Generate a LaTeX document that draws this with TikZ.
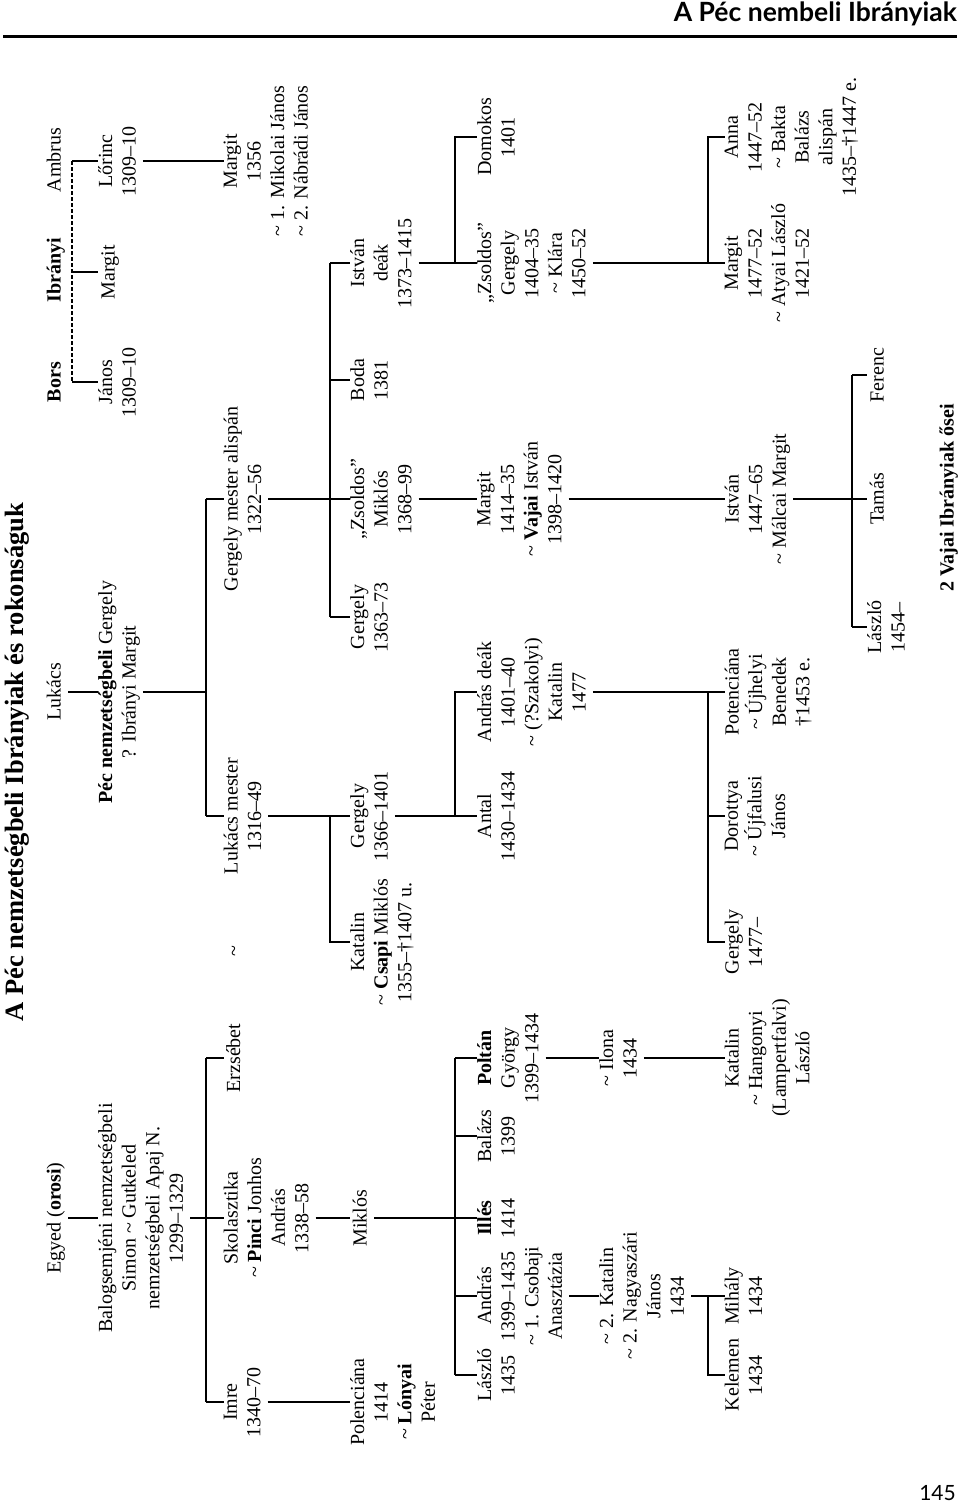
\documentclass[tikz,border=0pt]{standalone}
\usepackage{fontspec}
\setmainfont{Liberation Serif}
\newfontfamily\hdrfont{Lato}
\begin{document}
\begin{tikzpicture}[x=1pt,y=-1pt]
\tikzset{
  pn/.style={rotate=90, anchor=north, inner sep=0pt, align=center,
    font=\fontsize{20}{23.6}\selectfont,
    execute at begin node=\strut, execute at end node=\strut},
  pnb/.style={pn, font=\fontsize{20}{23.6}\selectfont\bfseries},
  ln/.style={line width=1.3pt},
  dl/.style={line width=1.3pt, dash pattern=on 3.5pt off 2.5pt},
}
\fill[white] (0,0) rectangle (960,1504);
\useasboundingbox (0,0) rectangle (960,1504);

% header
\node[anchor=base east, inner sep=0pt, font=\hdrfont\fontsize{26.5}{30}\selectfont\bfseries] (hdr) at (957,22) {A Péc nembeli Ibrányiak};
\draw[line width=3pt] (3,37) -- (957,37);
\node[anchor=base east, inner sep=0pt, font=\hdrfont\fontsize{21}{25}\selectfont] (pg) at (956,1500) {145};

% title
\node[rotate=90, anchor=north, inner sep=0pt, font=\fontsize{26.5}{30}\selectfont\bfseries,
  execute at begin node=\strut] (title) at (2,762) {A Péc nemzetségbeli Ibrányiak és rokonságuk};

% generation 0
\node[pn] (egyed) at (44,1218) {Egyed (\textbf{orosi})};
\node[pn] (lukacs) at (44,692) {Lukács};
\node[pnb] (bors) at (44,382) {Bors};
\node[pnb] (ibranyi) at (44,270) {Ibrányi};
\node[pn] (ambrus) at (44,160) {Ambrus};

% generation 1
\node[pn] (balog) at (98,1218) {Balogsemjéni nemzetségbeli\\Simon \textasciitilde{} Gutkeled\\nemzetségbeli Apaj N.\\1299–1329};
\node[pn] (pec) at (98,692) {\textbf{Péc nemzetségbeli} Gergely\\? Ibrányi Margit};
\node[pn] (janos) at (98,382) {János\\1309–10};
\node[pn] (margit1) at (98,272) {Margit};
\node[pn] (lorinc) at (98,161) {Lőrinc\\1309–10};

% generation 2
\node[pn] (imre) at (223.5,1402) {Imre\\1340–70};
\node[pn] (skol) at (223.5,1218) {Skolasztika\\\textasciitilde{} \textbf{Pinci} Jonhos\\András\\1338–58};
\node[pn] (erzs) at (223.5,1058) {Erzsébet};
\node[pn] (tilde) at (223.5,951) {\textasciitilde};
\node[pn] (lukm) at (223.5,816) {Lukács mester\\1316–49};
\node[pn] (gmest) at (223.5,499) {Gergely mester alispán\\1322–56};
\node[pn] (margit2) at (223.5,161) {Margit\\1356\\\textasciitilde{} 1. Mikolai János\\\textasciitilde{} 2. Nábrádi János};

% generation 3
\node[pn] (polenc) at (350,1402) {Polenciána\\1414\\\textasciitilde{} \textbf{Lónyai}\\Péter};
\node[pn] (miklos) at (350,1218) {Miklós};
\node[pn] (katalin1) at (350,942) {Katalin\\\textasciitilde{} \textbf{Csapi} Miklós\\1355–†1407 u.};
\node[pn] (gergely1) at (350,816) {Gergely\\1366–1401};
\node[pn] (gergely2) at (350,617) {Gergely\\1363–73};
\node[pn] (zsmik) at (350,499) {„Zsoldos”\\Miklós\\1368–99};
\node[pn] (boda) at (350,380) {Boda\\1381};
\node[pn] (istvan1) at (350,263) {István\\deák\\1373–1415};

% generation 4
\node[pn] (laszlo1) at (477,1375) {László\\1435};
\node[pn] (andras1) at (477,1296) {András\\1399–1435\\\textasciitilde{} 1. Csobaji\\Anasztázia};
\node[pn] (illes) at (477,1218) {\textbf{Illés}\\1414};
\node[pn] (balazs) at (477,1136) {Balázs\\1399};
\node[pn] (poltan) at (477,1058) {\textbf{Poltán}\\György\\1399–1434};
\node[pn] (antal) at (477,816) {Antal\\1430–1434};
\node[pn] (andrasd) at (477,692) {András deák\\1401–40\\\textasciitilde{} (?Szakolyi)\\Katalin\\1477};
\node[pn] (margit3) at (477,499) {Margit\\1414–35\\\textasciitilde{} \textbf{Vajai} István\\1398–1420};
\node[pn] (zsgerg) at (477,263) {„Zsoldos”\\Gergely\\1404–35\\\textasciitilde{} Klára\\1450–52};
\node[pn] (domokos) at (477,137) {Domokos\\1401};

% generation 4b
\node[pn] (katalin2) at (599,1296) {\textasciitilde{} 2. Katalin\\\textasciitilde{} 2. Nagyaszári\\János\\1434};
\node[pn] (ilona) at (599,1058) {\textasciitilde{} Ilona\\1434};

% generation 5
\node[pn] (kelemen) at (724.5,1375) {Kelemen\\1434};
\node[pn] (mihaly) at (724.5,1296) {Mihály\\1434};
\node[pn] (katalin3) at (724.5,1058) {Katalin\\\textasciitilde{} Hangonyi\\(Lampertfalvi)\\László};
\node[pn] (gergely3) at (724.5,942) {Gergely\\1477–};
\node[pn] (dorottya) at (724.5,816) {Dorottya\\\textasciitilde{} Újfalusi\\János};
\node[pn] (potenc) at (724.5,692) {Potenciána\\\textasciitilde{} Újhelyi\\Benedek\\†1453 e.};
\node[pn] (istvan2) at (724.5,499) {István\\1447–65\\\textasciitilde{} Málcai Margit};
\node[pn] (margit4) at (724.5,263) {Margit\\1477–52\\\textasciitilde{} Atyai László\\1421–52};
\node[pn] (anna) at (724.5,137) {Anna\\1447–52\\\textasciitilde{} Bakta\\Balázs\\alispán\\1435–†1447 e.};

% generation 6
\node[pn] (laszlo2) at (867,627) {László\\1454–};
\node[pn] (tamas) at (867,499) {Tamás};
\node[pn] (ferenc) at (867,375) {Ferenc};

% caption
\node[pnb] (caption) at (937,498) {2 Vajai Ibrányiak ősei};

% bar coordinates
\coordinate (d0) at (72,272);
\coordinate (b1) at (206,1218);
\coordinate (b2) at (206,692);
\coordinate (b3) at (330,816);
\coordinate (b4) at (330,499);
\coordinate (b5) at (455,1218);
\coordinate (b6) at (455,816);
\coordinate (b7) at (455,263);
\coordinate (b8) at (708,1296);
\coordinate (b9) at (708,692);
\coordinate (b10) at (708,263);
\coordinate (b11) at (852,499);

% connectors
\draw[ln] (egyed.south) -- (balog.north);
\draw[ln] (lukacs.south) -- (pec.north);
\draw[dl] (d0 |- lorinc.north) -- (d0 |- janos.north);
\draw[ln] (d0 |- lorinc.north) -- (lorinc.north);
\draw[ln] (d0 |- margit1.north) -- (margit1.north);
\draw[ln] (d0 |- janos.north) -- (janos.north);
\draw[ln] (lorinc.south) -- (margit2.north);

\draw[ln] (balog.south) -- (skol.north);
\draw[ln] (b1 |- erzs.north) -- (b1 |- imre.north);
\draw[ln] (b1 |- erzs.north) -- (erzs.north);
\draw[ln] (b1 |- imre.north) -- (imre.north);

\draw[ln] (pec.south) -- (b2);
\draw[ln] (b2 |- gmest.north) -- (b2 |- lukm.north);
\draw[ln] (b2 |- gmest.north) -- (gmest.north);
\draw[ln] (b2 |- lukm.north) -- (lukm.north);

\draw[ln] (imre.south) -- (polenc.north);
\draw[ln] (skol.south) -- (miklos.north);

\draw[ln] (lukm.south) -- (gergely1.north);
\draw[ln] (b3) -- (b3 |- katalin1.north) -- (katalin1.north);

\draw[ln] (gmest.south) -- (zsmik.north);
\draw[ln] (b4 |- istvan1.north) -- (b4 |- gergely2.north);
\draw[ln] (b4 |- istvan1.north) -- (istvan1.north);
\draw[ln] (b4 |- boda.north) -- (boda.north);
\draw[ln] (b4 |- gergely2.north) -- (gergely2.north);

\draw[ln] (miklos.south) -- (illes.north);
\draw[ln] (b5 |- poltan.north) -- (b5 |- laszlo1.north);
\draw[ln] (b5 |- poltan.north) -- (poltan.north);
\draw[ln] (b5 |- balazs.north) -- (balazs.north);
\draw[ln] (b5 |- andras1.north) -- (andras1.north);
\draw[ln] (b5 |- laszlo1.north) -- (laszlo1.north);

\draw[ln] (gergely1.south) -- (antal.north);
\draw[ln] (b6) -- (b6 |- andrasd.north) -- (andrasd.north);

\draw[ln] (zsmik.south) -- (margit3.north);
\draw[ln] (istvan1.south) -- (zsgerg.north);
\draw[ln] (b7) -- (b7 |- domokos.north) -- (domokos.north);

\draw[ln] (andras1.south) -- (katalin2.north);
\draw[ln] (poltan.south) -- (ilona.north);

\draw[ln] (katalin2.south) -- (mihaly.north);
\draw[ln] (b8) -- (b8 |- kelemen.north) -- (kelemen.north);

\draw[ln] (ilona.south) -- (katalin3.north);

\draw[ln] (andrasd.south) -- (potenc.north);
\draw[ln] (b9) -- (b9 |- gergely3.north) -- (gergely3.north);
\draw[ln] (b9 |- dorottya.north) -- (dorottya.north);

\draw[ln] (margit3.south) -- (istvan2.north);
\draw[ln] (zsgerg.south) -- (margit4.north);
\draw[ln] (b10) -- (b10 |- anna.north) -- (anna.north);

\draw[ln] (istvan2.south) -- (tamas.north);
\draw[ln] (b11 |- ferenc.north) -- (b11 |- laszlo2.north);
\draw[ln] (b11 |- ferenc.north) -- (ferenc.north);
\draw[ln] (b11 |- laszlo2.north) -- (laszlo2.north);
\end{tikzpicture}
\end{document}
